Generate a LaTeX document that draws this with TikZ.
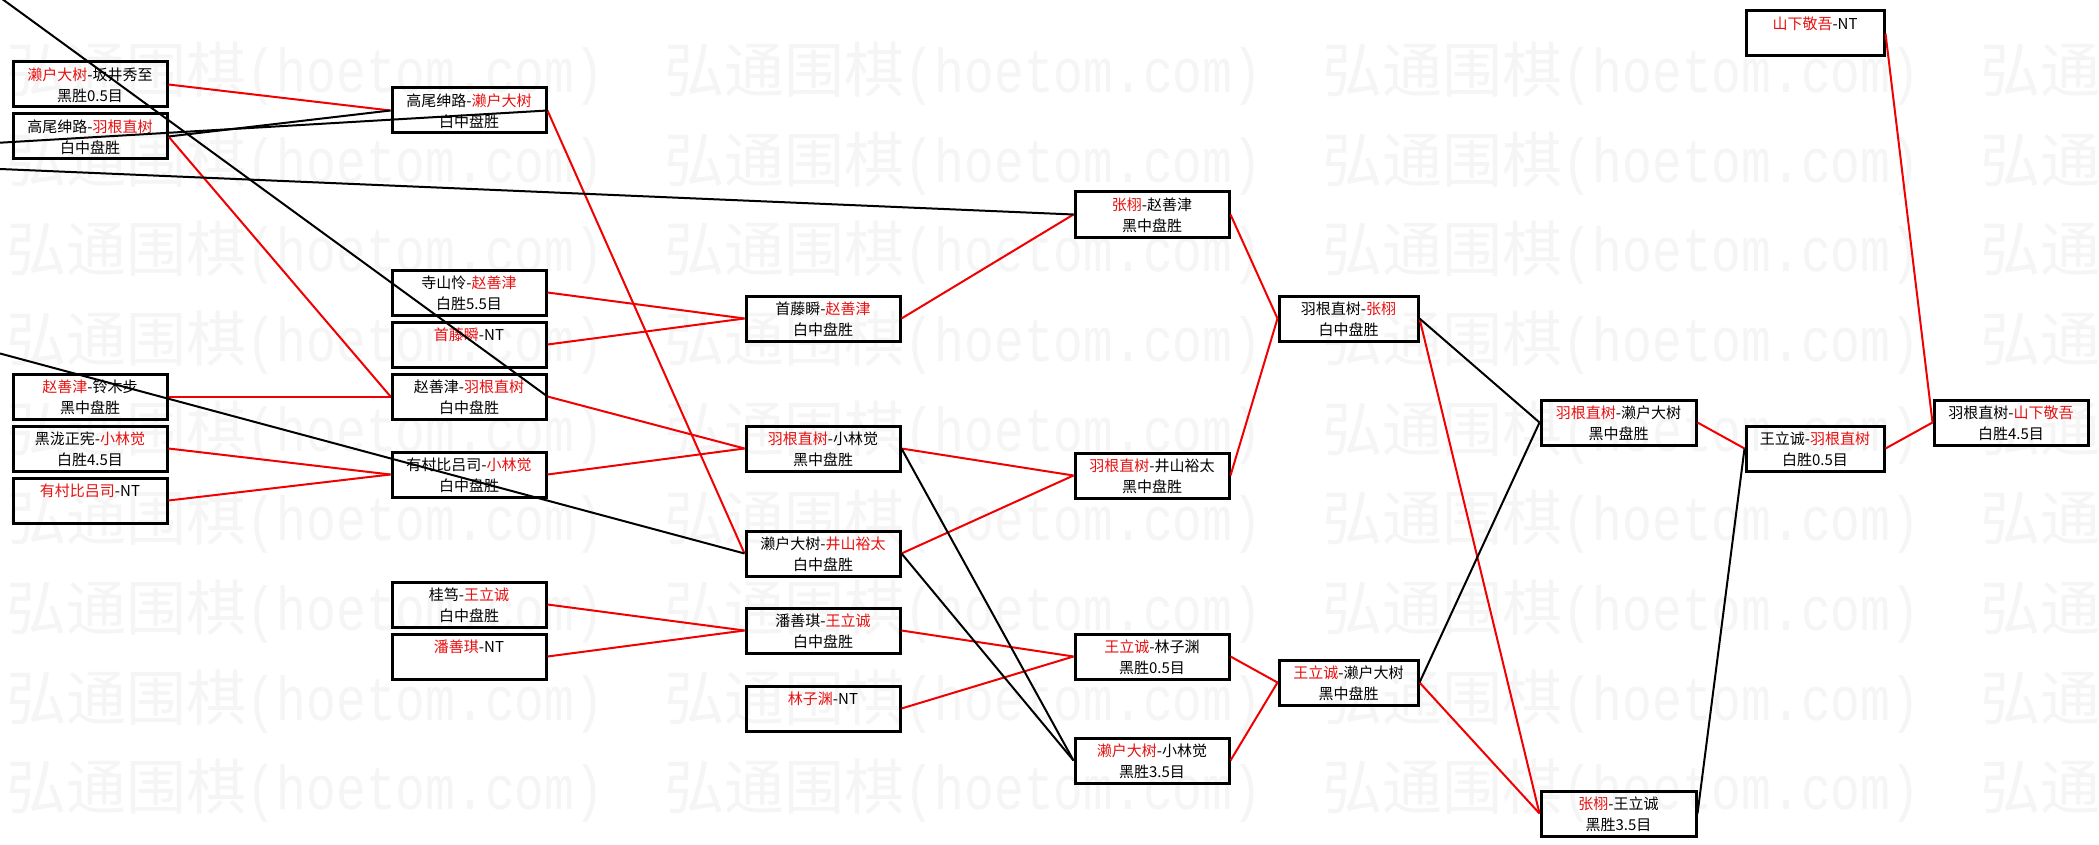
\documentclass[tikz,border=0pt]{standalone}
\usepackage{fontspec}
\newfontfamily\cjk{Noto Sans CJK SC}
\newfontfamily\wmlat[FakeStretch=0.8]{Liberation Mono}
\definecolor{txtred}{HTML}{E81010}
\definecolor{lnred}{HTML}{F00000}
\definecolor{wmgray}{HTML}{F5F5F5}
\newcommand\R[1]{\textcolor{txtred}{#1}}
\newcommand\mystrut{\rule[-1.2pt]{0pt}{12pt}}
\newcommand\gl[2]{\mystrut#1\\\mystrut#2}
\begin{document}
\begin{tikzpicture}[x=0.75pt,y=-0.75pt,
  gbox/.style={draw=black, line width=2.25pt, minimum height=33.75pt, minimum width=#1,
    inner sep=0pt, align=center, font=\cjk\fontsize{11.25pt}{15.75pt}\selectfont},
  gbox/.default=115.5pt,
  win/.style={draw=lnred, line width=1.5pt},
  lose/.style={draw=black, line width=1.5pt},
  wm/.style={text=wmgray, inner sep=0pt, anchor=base west}]
\fill[white] (0,0) rectangle (2099,845);
\useasboundingbox (0,0) rectangle (2099,845);
\clip (0,0) rectangle (2099,845);
% watermark
\foreach \r in {0,...,8}{
  \foreach \c in {0,...,3}{
    \node[wm] (wm-\r-\c) at ({6.7+658*\c},{92.8+89.6*\r})
      {{\cjk\fontsize{45pt}{45pt}\selectfont 弘通围棋}{\wmlat\fontsize{46.5pt}{46.5pt}\selectfont(hoetom.com)}};
  }
}
% column 1
\node[gbox] (B1) at (90,84.5) {\gl{\R{濑户大树}-坂井秀至}{黑胜0.5目}};
\node[gbox] (B2) at (90,136.5) {\gl{高尾绅路-\R{羽根直树}}{白中盘胜}};
\node[gbox] (B3) at (90,396.5) {\gl{\R{赵善津}-铃木步}{黑中盘胜}};
\node[gbox] (B4) at (90,448.5) {\gl{黑泷正宪-\R{小林觉}}{白胜4.5目}};
\node[gbox] (B5) at (90,500.5) {\gl{\R{有村比吕司}-NT}{}};
% column 2
\node[gbox] (C1) at (469,110.5) {\gl{高尾绅路-\R{濑户大树}}{白中盘胜}};
\node[gbox] (C2) at (469,292.5) {\gl{寺山怜-\R{赵善津}}{白胜5.5目}};
\node[gbox] (C3) at (469,344.5) {\gl{\R{首藤瞬}-NT}{}};
\node[gbox] (C4) at (469,396.5) {\gl{赵善津-\R{羽根直树}}{白中盘胜}};
\node[gbox] (C5) at (469,474.5) {\gl{有村比吕司-\R{小林觉}}{白中盘胜}};
\node[gbox] (C6) at (469,604.5) {\gl{桂笃-\R{王立诚}}{白中盘胜}};
\node[gbox] (C7) at (469,656.5) {\gl{\R{潘善琪}-NT}{}};
% column 3
\node[gbox] (D1) at (823,318.5) {\gl{首藤瞬-\R{赵善津}}{白中盘胜}};
\node[gbox] (D2) at (823,448.5) {\gl{\R{羽根直树}-小林觉}{黑中盘胜}};
\node[gbox] (D3) at (823,553.5) {\gl{濑户大树-\R{井山裕太}}{白中盘胜}};
\node[gbox] (D4) at (823,630.5) {\gl{潘善琪-\R{王立诚}}{白中盘胜}};
\node[gbox] (D5) at (823,708.5) {\gl{\R{林子渊}-NT}{}};
% column 4
\node[gbox] (E1) at (1152,214.5) {\gl{\R{张栩}-赵善津}{黑中盘胜}};
\node[gbox] (E2) at (1152,475.5) {\gl{\R{羽根直树}-井山裕太}{黑中盘胜}};
\node[gbox] (E3) at (1152,656.5) {\gl{\R{王立诚}-林子渊}{黑胜0.5目}};
\node[gbox] (E4) at (1152,760.5) {\gl{\R{濑户大树}-小林觉}{黑胜3.5目}};
% column 5
\node[gbox=104.25pt] (F1) at (1348.5,318.5) {\gl{羽根直树-\R{张栩}}{白中盘胜}};
\node[gbox=104.25pt] (F2) at (1348.5,682.5) {\gl{\R{王立诚}-濑户大树}{黑中盘胜}};
% column 6
\node[gbox=116.25pt] (G1) at (1618.5,422.5) {\gl{\R{羽根直树}-濑户大树}{黑中盘胜}};
\node[gbox=116.25pt] (G2) at (1618.5,813.5) {\gl{\R{张栩}-王立诚}{黑胜3.5目}};
% column 7
\node[gbox=103.5pt] (H0) at (1815,33.5) {\gl{\R{山下敬吾}-NT}{}};
\node[gbox=103.5pt] (H1) at (1815,448.5) {\gl{王立诚-\R{羽根直树}}{白胜0.5目}};
% column 8
\node[gbox] (I1) at (2011,422.5) {\gl{羽根直树-\R{山下敬吾}}{白胜4.5目}};
% off-picture ends
\coordinate (o1) at (0,142.7);
\coordinate (o2) at (0,-2.6);
\coordinate (o3) at (0,169);
\coordinate (o4) at (0,353.5);
% winners' connectors
\draw[win] (B1.east) -- (C1.west);
\draw[win] (B2.east) -- (C4.west);
\draw[win] (B3.east) -- (C4.west);
\draw[win] (B4.east) -- (C5.west);
\draw[win] (B5.east) -- (C5.west);
\draw[win] (C1.east) -- (D3.west);
\draw[win] (C2.east) -- (D1.west);
\draw[win] (C3.east) -- (D1.west);
\draw[win] (C4.east) -- (D2.west);
\draw[win] (C5.east) -- (D2.west);
\draw[win] (C6.east) -- (D4.west);
\draw[win] (C7.east) -- (D4.west);
\draw[win] (D1.east) -- (E1.west);
\draw[win] (D2.east) -- (E2.west);
\draw[win] (D3.east) -- (E2.west);
\draw[win] (D4.east) -- (E3.west);
\draw[win] (D5.east) -- (E3.west);
\draw[win] (E1.east) -- (F1.west);
\draw[win] (E2.east) -- (F1.west);
\draw[win] (E3.east) -- (F2.west);
\draw[win] (E4.east) -- (F2.west);
\draw[win] (F1.east) -- (G2.west);
\draw[win] (F2.east) -- (G2.west);
\draw[win] (G1.east) -- (H1.west);
\draw[win] (H1.east) -- (I1.west);
\draw[win] (H0.east) -- (I1.west);
% losers' connectors
\draw[lose] (B2.east) -- (C1.west);
\draw[lose] (o1) -- (C1.east);
\draw[lose] (o2) -- (C4.east);
\draw[lose] (o3) -- (E1.west);
\draw[lose] (o4) -- (D3.west);
\draw[lose] (D2.east) -- (E4.west);
\draw[lose] (D3.east) -- (E4.west);
\draw[lose] (F1.east) -- (G1.west);
\draw[lose] (F2.east) -- (G1.west);
\draw[lose] (G2.east) -- (H1.west);
\end{tikzpicture}
\end{document}
